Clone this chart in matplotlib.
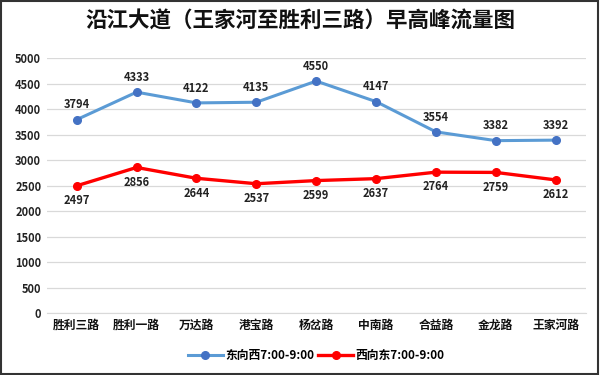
import matplotlib
matplotlib.use("Agg")
import matplotlib.pyplot as plt
from matplotlib.patches import Rectangle

plt.rcParams['font.family'] = ['Noto Sans CJK SC', 'DejaVu Sans']

categories = ["胜利三路", "胜利一路", "万达路", "港宝路", "杨岔路", "中南路", "合益路", "金龙路", "王家河路"]
east_to_west = [3794, 4333, 4122, 4135, 4550, 4147, 3554, 3382, 3392]
west_to_east = [2497, 2856, 2644, 2537, 2599, 2637, 2764, 2759, 2612]
y_ticks = list(range(0, 5001, 500))

fig = plt.figure(figsize=(6, 3.75), dpi=100)
ax = fig.add_axes([0.078, 0.165, 0.898, 0.68])

x = list(range(len(categories)))

ax.plot(x, east_to_west, color="#5B9BD5", lw=2.2, marker="o", ms=5.5,
        mfc="#4472C4", mec="#4472C4", label="东向西7:00-9:00", zorder=3)
ax.plot(x, west_to_east, color="#FF0000", lw=2.4, marker="o", ms=5.5,
        mfc="#FF0000", mec="#FF0000", label="西向东7:00-9:00", zorder=3)

for xi, v in zip(x, east_to_west):
    ax.annotate(str(v), (xi, v), xytext=(0, 6), textcoords="offset points",
                ha="center", va="bottom", fontsize=8, fontweight="bold", color="#222222")
for xi, v in zip(x, west_to_east):
    ax.annotate(str(v), (xi, v), xytext=(0, -6), textcoords="offset points",
                ha="center", va="top", fontsize=8, fontweight="bold", color="#222222")

ax.set_xlim(-0.5, len(categories) - 0.5)
ax.set_ylim(0, 5000)
ax.set_yticks(y_ticks)
ax.set_yticklabels([str(t) for t in y_ticks], fontsize=8, fontweight="bold", color="#222222")
ax.set_xticks(x)
ax.set_xticklabels(categories, fontsize=8.5, fontweight="bold", color="#111111")
ax.tick_params(length=0, pad=4)
ax.grid(axis="y", color="#d9d9d9", lw=0.9)
ax.set_axisbelow(True)
for s in ["top", "right", "left"]:
    ax.spines[s].set_visible(False)
ax.spines["bottom"].set_color("#d9d9d9")

fig.suptitle("沿江大道（王家河至胜利三路）早高峰流量图", y=0.972, fontsize=15.5,
             fontweight="bold", color="#111111")

ax.legend(loc="upper center", bbox_to_anchor=(0.5, -0.1), ncol=2, frameon=False,
          handlelength=3, columnspacing=0.3, handletextpad=0.2,
          prop={"weight": "bold", "size": 8.5})

fig.patches.append(Rectangle((0.002, 0.003), 0.995, 0.994, transform=fig.transFigure,
                             fill=False, edgecolor="#333333", lw=1.5))

fig.savefig("out.png", dpi=100)
